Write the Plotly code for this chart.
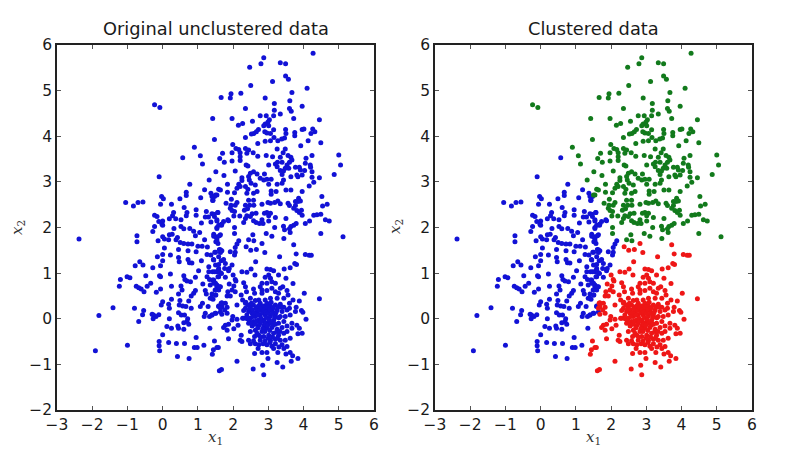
import plotly.graph_objects as go
from plotly.subplots import make_subplots

titles = ["Original unclustered data", "Clustered data"]
x_label = "<i>x</i><sub>1</sub>"
y_label = "<i>x</i><sub>2</sub>"
x_ticks = [-3, -2, -1, 0, 1, 2, 3, 4, 5, 6]
y_ticks = [-2, -1, 0, 1, 2, 3, 4, 5, 6]

green_points = [
(4.27,5.82),(2.87,5.72),(2.79,5.59),(2.47,5.51),(3.34,5.61),(3.49,5.59),(3.49,5.32),(3.57,5.25),(3.12,5.20),(2.50,5.11),
(4.10,5.05),(3.67,4.96),(2.22,4.94),(1.94,4.93),(1.92,4.84),(1.66,4.85),(2.91,4.84),(3.61,4.78),(3.17,4.72),(3.96,4.66),
(2.35,4.61),(3.60,4.61),(3.17,4.57),(3.65,4.55),(3.34,4.49),(3.15,4.45),(2.94,4.45),(2.77,4.45),(3.72,4.39),(4.45,4.36),
(1.42,4.39),(1.97,4.39),(2.55,4.33),(3.03,4.36),(2.99,4.31),(2.91,4.27),(2.87,4.23),(2.27,4.28),(2.15,4.24),(3.01,4.23),
(3.49,4.15),(3.96,4.15),(4.01,4.16),(4.26,4.16),(4.32,4.10),(2.72,4.15),(2.66,4.10),(2.59,4.06),(2.52,4.05),(2.90,4.10),
(2.96,4.07),(3.06,4.06),(3.15,4.14),(3.50,4.06),(3.75,4.08),(3.75,4.01),(4.21,4.06),(2.35,3.97),(3.46,3.96),(3.38,3.94),
(3.27,3.90),(3.16,3.97),(3.06,3.90),(2.91,3.89),(2.70,3.84),(4.13,3.90),(4.49,3.86),(3.92,3.79),(1.99,3.82),(2.08,3.73),
(2.16,3.71),(2.35,3.73),(2.44,3.70),(3.25,3.72),(3.48,3.72),(3.42,3.64),(1.97,3.64),(1.70,3.63),(2.20,3.64),(2.39,3.63),
(2.57,3.64),(2.70,3.56),(2.94,3.58),(3.12,3.55),(2.20,3.55),(1.62,3.51),(1.97,3.46),(1.75,3.43),(4.24,3.58),(4.07,3.52),
(5.00,3.59),(5.05,3.37),(4.87,3.16),(3.56,3.58),(3.64,3.54),(3.67,3.48),(3.34,3.54),(3.60,3.43),(3.53,3.37),(3.39,3.43),
(3.26,3.43),(3.20,3.39),(3.01,3.37),(3.25,3.33),(2.37,3.37),(2.42,3.35),(2.20,3.47),(4.05,3.41),(4.19,3.37),(4.20,3.32),
(3.88,3.32),(3.77,3.32),(3.91,3.26),(4.03,3.25),(4.24,3.22),(3.34,3.25),(3.43,3.24),(3.48,3.30),(3.58,3.30),(3.39,3.16),
(1.51,3.22),(2.06,3.24),(2.58,3.22),(2.49,3.19),(2.68,3.17),(2.89,3.17),(3.81,3.15),(3.96,3.15),(3.84,3.11),(3.64,3.11),
(4.45,3.09),(4.24,3.10),(1.74,3.14),(2.25,3.09),(2.25,3.03),(2.44,3.12),(2.46,3.04),(2.51,2.97),(2.77,3.08),(2.87,3.04),
(2.96,3.06),(3.08,3.06),(3.43,3.04),(3.39,2.97),(3.25,2.95),(2.16,2.95),(2.20,2.90),(2.11,2.86),(2.35,2.90),(3.01,2.95),
(2.63,2.93),(4.29,2.99),(4.16,2.91),(1.84,2.95),(1.59,2.84),(1.84,2.77),(2.04,2.76),(2.42,2.84),(3.50,2.82),(3.64,2.82),
(3.22,2.79),(3.08,2.80),(3.08,2.73),(2.58,2.75),(2.68,2.79),(2.39,2.75),(3.96,2.79),(4.52,2.68),(1.54,2.71),(1.95,2.62),
(2.44,2.60),(2.58,2.60),(3.86,2.64),(3.91,2.58),(3.77,2.57),(3.27,2.58),(3.18,2.55),(3.06,2.53),(2.82,2.51),(2.99,2.55),
(3.34,2.52),(1.80,2.53),(2.11,2.55),(2.06,2.49),(1.94,2.49),(2.35,2.49),(2.59,2.49),(2.47,2.49),(4.67,2.51),(4.54,2.47),
(3.77,2.48),(3.56,2.53),(3.60,2.48),(3.84,2.57),(1.92,2.42),(1.97,2.37),(2.32,2.38),(2.41,2.41),(2.04,2.35),(3.72,2.42),
(3.94,2.38),(3.81,2.37),(3.88,2.33),(3.96,2.27),(2.96,2.33),(3.06,2.31),(2.89,2.31),(2.54,2.30),(2.65,2.31),(2.49,2.24),
(2.39,2.26),(2.19,2.25),(2.02,2.25),(2.35,2.20),(3.50,2.20),(3.20,2.22),(3.01,2.26),(4.29,2.27),(4.38,2.28),(4.49,2.29),
(4.62,2.17),(4.73,2.14),(4.17,2.14),(4.05,2.09),(2.58,2.15),(2.65,2.11),(2.82,2.17),(2.85,2.09),(2.75,2.09),(3.01,2.14),
(2.30,2.11),(2.04,2.00),(3.18,2.00),(3.43,2.03),(3.79,2.09),(3.72,2.05),(3.64,2.02),(3.60,1.97),(2.04,1.87),(2.56,1.84),
(2.44,1.73),(2.59,1.71),(2.94,1.87),(3.10,1.81),(3.44,1.76),(3.46,1.95),(3.62,1.89),(4.49,1.87),(5.12,1.80),
(-0.23,4.69),(-0.08,4.63),(1.47,3.93),(0.90,3.76),(1.07,3.57),(1.13,3.39),(1.32,3.04),(1.64,2.82),(1.50,2.71),
]

blue_points = [
(0.57,3.53),(-0.10,3.11),(0.77,2.95),(1.19,2.83),(0.67,2.77),(0.67,2.70),(1.37,2.75),(1.47,2.68),(1.42,2.59),(1.08,2.65),
(0.49,2.63),(-0.03,2.68),(0.02,2.63),(-0.06,2.51),(0.25,2.51),(-1.05,2.55),(-0.83,2.47),(-0.70,2.55),(-0.56,2.56),(0.61,2.44),
(0.95,2.39),(0.95,2.27),(0.69,2.33),(0.67,2.26),(1.24,2.35),(1.57,2.33),(1.40,2.30),(1.47,2.24),(1.30,2.23),(1.21,2.23),
(0.31,2.33),(0.28,2.26),(0.19,2.19),(0.37,2.19),(0.52,2.17),(-0.23,2.27),(-0.16,2.24),(-0.11,2.13),(0.00,2.14),(-0.02,2.07),
(-0.23,2.02),(1.10,2.10),(1.37,2.12),(1.54,2.14),(1.67,2.07),(1.54,2.00),(0.32,1.98),(0.52,2.02),(0.77,1.98),
(-2.375,1.75),(-0.28,1.91),(0.00,2.05),(-0.73,1.82),(-0.73,1.69),(-0.13,1.71),(0.00,1.80),(0.05,1.75),(0.19,1.84),(0.27,1.85),
(0.17,1.73),(0.38,1.73),(0.42,1.78),(0.60,1.97),(0.88,1.92),(1.05,1.89),(0.93,1.82),(1.19,1.73),(1.45,1.85),(1.54,1.76),
(1.51,1.69),(1.64,1.84),(0.50,1.67),(0.60,1.65),(0.72,1.64),(0.83,1.64),(1.00,1.59),(1.12,1.59),(1.27,1.57),(0.05,1.55),
(0.45,1.52),(0.72,1.49),(0.95,1.47),(0.00,1.41),(-0.15,1.36),(0.22,1.40),(0.45,1.34),(0.47,1.25),(0.72,1.30),(0.76,1.23),
(0.83,1.22),(1.10,1.27),(1.26,1.41),(1.37,1.40),(1.50,1.46),(1.44,1.30),(1.64,1.51),(1.59,1.36),(1.66,1.27),(0.00,1.27),
(-0.06,1.16),(-0.28,1.12),(-0.65,1.25),(-0.56,1.18),(-0.78,1.16),(1.02,1.05),(1.31,1.14),(1.50,1.18),(1.59,1.10),(1.31,1.03),
(1.42,1.03),(1.54,1.03),(1.64,1.01),(0.22,0.98),(-0.09,0.94),(-0.06,0.92),(-0.48,0.94),(-1.01,0.92),(-0.93,0.90),(-1.20,0.86),
(-1.23,0.71),(0.60,0.94),(0.63,0.86),(0.69,0.83),(0.79,0.81),(0.93,0.91),(1.26,0.92),(1.33,0.86),(1.42,0.85),(1.50,0.78),
(1.59,0.92),(1.14,0.76),(1.35,0.74),(1.54,0.70),(1.64,0.70),(-0.34,0.78),(-0.44,0.71),(-0.75,0.71),(-0.68,0.68),(-0.61,0.65),
(-0.53,0.59),(-0.18,0.58),(-0.06,0.65),(0.25,0.71),(0.55,0.63),(0.45,0.54),(0.52,0.72),(0.93,0.62),(0.88,0.56),(0.81,0.50),
(1.21,0.62),(1.24,0.54),(1.40,0.54),(1.50,0.52),(1.35,0.45),(1.59,0.63),(1.43,0.43),(0.25,0.43),(0.00,0.37),(-0.04,0.30),
(0.17,0.32),(0.19,0.23),(0.49,0.40),(0.47,0.30),(0.57,0.28),(0.66,0.27),(0.74,0.39),(0.81,0.23),(1.07,0.27),(1.13,0.34),
(1.29,0.27),(1.59,0.28),(-0.80,0.23),(-1.41,0.24),(-0.54,0.18),(-0.57,0.09),(-1.81,0.07),(-0.30,0.10),(-0.26,0.08),(-0.11,0.09),
(-0.19,0.05),(-0.27,0.00),(-0.68,-0.06),(0.45,0.13),(0.53,0.08),(0.62,0.08),(1.21,0.12),(1.18,0.05),(1.33,0.05),(1.40,0.08),
(1.51,0.12),(1.64,0.15),(0.19,0.00),(0.71,0.00),(0.69,-0.06),(0.74,-0.12),(0.60,-0.09),(0.12,-0.17),(0.25,-0.21),(0.43,-0.16),
(0.45,-0.21),(0.60,-0.23),(1.34,-0.21),(0.00,-0.35),(0.95,-0.41),(-0.10,-0.50),(-0.10,-0.59),(0.17,-0.52),(0.39,-0.54),(0.62,-0.54),
(-1.00,-0.58),(-0.085,-0.70),(0.90,-0.63),(0.98,-0.63),(1.17,-0.58),(-1.91,-0.70),(0.42,-0.83),(0.75,-0.87),
(1.45,1.81),(1.51,1.80),(1.61,1.82),(1.54,1.71),(1.57,1.65),(2.16,1.71),(2.11,1.64),(2.06,1.56),(1.92,1.47),(2.06,1.46),
(2.04,1.40),(1.61,1.52),(1.68,1.49),(1.64,1.45),(1.48,1.46),(1.45,1.29),(1.73,1.30),(1.78,1.21),(1.59,1.19),(1.97,1.18),
(1.89,1.10),(1.76,1.10),(1.87,1.05),(1.59,1.07),(1.48,1.03),(1.67,0.99),(1.78,0.91),(1.57,0.92),(1.45,0.85),(1.45,0.78),
(1.54,0.74),(1.61,0.70),(1.49,0.63),(1.51,0.52),(1.40,0.45),(1.59,0.27),(1.40,0.08),(1.49,0.12),
(1.59,2.05),(1.67,2.05),(1.54,1.98),(1.87,2.15),(1.73,2.13),(1.85,2.17),(1.68,2.07),(1.56,2.33),(1.45,2.29),(1.54,2.17),(1.40,2.68),(1.43,2.60),
]

red_points = [
(2.82,1.65),(3.72,1.62),(2.37,1.58),(2.50,1.50),(2.66,1.52),(2.90,1.45),(3.79,1.42),(4.05,1.41),(4.16,1.39),(4.22,1.39),
(3.32,1.36),(2.64,1.25),(3.75,1.21),(3.80,1.19),(2.25,1.03),(2.39,1.02),(2.51,1.09),(2.62,0.96),(2.96,1.09),(3.06,1.08),
(3.15,1.05),(3.45,1.09),(3.62,1.12),(3.29,0.96),(3.50,0.89),(2.00,0.96),(2.06,0.86),(2.08,0.83),(2.30,0.79),(3.70,0.77),
(2.91,0.91),(3.01,0.96),(3.06,0.89),(3.10,0.81),(2.96,0.78),(2.82,0.78),(2.77,0.70),(1.89,0.76),(2.02,0.72),(1.97,0.63),
(1.85,0.59),(1.83,0.50),(1.92,0.50),(2.06,0.59),(2.35,0.70),(2.38,0.59),(2.23,0.52),(2.27,0.41),(2.35,0.34),(2.58,0.65),
(2.61,0.56),(2.49,0.45),(2.82,0.63),(2.82,0.56),(2.96,0.62),(3.20,0.78),(3.10,0.67),(3.20,0.59),(3.34,0.67),(3.41,0.70),
(3.29,0.56),(3.53,0.62),(3.56,0.52),(3.44,0.45),(3.25,0.45),(3.06,0.45),(2.91,0.41),(2.73,0.41),(4.02,0.56),(4.45,0.44),
(3.70,0.41),(3.88,0.39),(3.60,0.34),(1.68,0.35),(1.78,0.34),(1.83,0.25),(1.68,0.27),(1.76,0.19),(1.68,0.10),(1.83,0.12),
(2.11,0.30),(3.79,0.25),(3.94,0.18),(3.98,0.14),(3.77,0.16),(3.60,0.23),
(2.35,0.23),(2.44,0.16),(2.30,0.18),(2.49,0.27),(2.58,0.30),(2.68,0.25),(2.77,0.34),(2.87,0.28),(2.96,0.34),(3.06,0.28),
(3.20,0.30),(3.34,0.32),(3.44,0.25),(3.53,0.19),(3.39,0.16),(3.25,0.19),(3.10,0.18),(2.96,0.21),(2.82,0.19),(2.68,0.16),
(2.54,0.12),(2.39,0.08),(2.30,0.01),(2.49,0.01),(2.63,0.05),(2.77,0.08),(2.91,0.08),(3.06,0.06),(3.20,0.08),(3.34,0.05),
(3.48,0.05),(3.62,0.08),(2.58,-0.06),(2.73,-0.03),(2.87,-0.03),(3.01,-0.06),(3.15,-0.04),(3.29,-0.10),(3.44,-0.06),(2.73,-0.14),
(2.87,-0.16),(2.54,-0.16),(2.44,-0.10),(2.63,-0.25),(2.82,-0.28),(2.96,-0.21),(3.10,-0.19),(3.25,-0.23),(3.39,-0.19),(3.53,-0.16),
(3.67,-0.21),(3.67,-0.10),(3.81,-0.14),(3.88,-0.21),(3.96,-0.32),(3.84,-0.33),(4.07,-0.01),(1.99,0.05),(1.97,-0.03),(2.11,-0.01),
(2.27,0.01),(1.78,-0.14),(1.87,-0.12),(1.73,-0.19),(1.83,-0.25),(2.02,-0.22),(2.14,-0.14),(1.87,-0.44),(2.23,-0.36),(2.20,-0.47),
(2.25,-0.50),(2.44,-0.47),(2.49,-0.28),(2.61,-0.39),(2.73,-0.36),(2.87,-0.39),(3.01,-0.36),(3.15,-0.32),(3.29,-0.36),(3.44,-0.32),
(3.53,-0.28),(3.62,-0.43),(3.48,-0.47),(3.34,-0.47),(3.20,-0.45),(3.06,-0.47),(2.91,-0.48),(2.77,-0.47),(2.63,-0.55),(2.73,-0.57),
(2.49,-0.55),(2.96,-0.57),(3.10,-0.60),(3.20,-0.55),(3.39,-0.57),(3.53,-0.61),(2.71,-0.65),(2.61,-0.76),(2.82,-0.74),(2.96,-0.74),
(3.15,-0.65),(3.27,-0.74),(3.44,-0.65),(3.50,-0.77),(3.62,-0.74),(3.69,-0.81),(3.84,-0.87),(3.65,-0.93),(2.99,-0.87),(3.25,-0.96),
(3.41,-1.06),(2.84,-1.02),(2.57,-1.10),(2.87,-1.23),(2.11,-0.93),(1.61,-1.14),(1.67,-1.11),(1.47,-0.49),(1.58,-0.63),(1.44,-0.68),
(1.41,-0.78),(1.54,-0.63),(1.66,0.34),(1.64,0.23),
(2.36,0.36),(2.42,0.30),(2.47,0.21),(2.52,0.34),(2.55,0.20),(2.60,0.12),(2.63,0.40),(2.65,0.22),(2.70,0.08),(2.72,0.28),
(2.75,0.18),(2.79,0.01),(2.80,0.25),(2.84,0.13),(2.88,0.20),(2.90,-0.08),(2.93,0.14),(2.95,0.03),(2.98,0.26),(3.00,0.12),
(3.03,-0.02),(3.04,0.20),(3.08,0.36),(3.12,0.12),(3.14,0.24),(3.18,0.02),(3.22,0.14),(3.27,0.26),(3.30,0.02),(3.37,0.25),
(2.40,0.00),(2.46,-0.04),(2.52,-0.10),(2.56,0.05),(2.62,-0.12),(2.66,-0.05),(2.70,-0.20),(2.76,-0.10),(2.80,-0.06),(2.84,-0.22),
(2.92,-0.12),(2.98,-0.14),(3.04,-0.26),(3.08,-0.10),(3.13,-0.14),(3.20,-0.12),(3.24,-0.28),(3.33,-0.28),(2.68,-0.32),(2.78,-0.40),
(2.90,-0.28),(3.00,-0.42),(3.12,-0.40),(3.26,-0.42),(2.85,-0.55),(3.05,-0.52),(3.30,-0.62),(2.58,-0.48),
]


def xs(points):
    return [p[0] for p in points]


def ys(points):
    return [p[1] for p in points]


fig = make_subplots(rows=1, cols=2)
BLUE, GREEN, RED = "#1212d6", "#127a1c", "#ee1616"
marker = dict(size=5, line=dict(width=0))
all_points = green_points + blue_points + red_points
fig.add_trace(go.Scatter(x=xs(all_points), y=ys(all_points), mode="markers",
                         marker=dict(color=BLUE, **marker)), row=1, col=1)
for pts, col in ((blue_points, BLUE), (green_points, GREEN), (red_points, RED)):
    fig.add_trace(go.Scatter(x=xs(pts), y=ys(pts), mode="markers",
                             marker=dict(color=col, **marker)), row=1, col=2)

W, H = 808, 455
domains = [(57 / W, 374 / W), (435 / W, 752 / W)]
label_font = dict(family="DejaVu Serif", size=15, color="#333333")
for i, dom in enumerate(domains, start=1):
    fig.update_xaxes(row=1, col=i, domain=list(dom), range=[-3, 6], tickvals=x_ticks, automargin=False,
                     ticktext=[str(t).replace("-", "\u2212") for t in x_ticks],
                     showgrid=False, zeroline=False, ticks="inside", ticklen=4, tickwidth=1,
                     tickcolor="#555555", showline=True, linewidth=1.5, linecolor="#222222", mirror="ticks",
                     tickfont=dict(family="DejaVu Sans", size=15.5, color="#1a1a1a"))
    fig.update_yaxes(row=1, col=i, domain=[1 - 410 / H, 1 - 45 / H], range=[-2, 6], tickvals=y_ticks, automargin=False,
                     ticktext=[str(t).replace("-", "\u2212") for t in y_ticks],
                     showgrid=False, zeroline=False, ticks="inside", ticklen=4, tickwidth=1,
                     tickcolor="#555555", showline=True, linewidth=1.5, linecolor="#222222", mirror="ticks",
                     tickfont=dict(family="DejaVu Sans", size=15.5, color="#1a1a1a"))
    fig.add_annotation(x=sum(dom) / 2, y=1 - 41 / H, xref="paper", yref="paper", text=titles[i - 1],
                       showarrow=False, xanchor="center", yanchor="bottom",
                       font=dict(family="DejaVu Sans", size=17.8, color="#1a1a1a"))
    fig.add_annotation(x=sum(dom) / 2, y=1 - 437 / H, xref="paper", yref="paper", text=x_label,
                       showarrow=False, xanchor="center", yanchor="middle", font=label_font)
    fig.add_annotation(x=dom[0] - 40 / W, y=1 - 227 / H, xref="paper", yref="paper", text=y_label,
                       showarrow=False, xanchor="center", yanchor="middle", textangle=-90, font=label_font)

fig.update_layout(width=W, height=H, margin=dict(l=0, r=0, t=0, b=0), showlegend=False,
                  paper_bgcolor="white", plot_bgcolor="white")
fig.write_html("out.html", config={"displayModeBar": False},
               post_script="document.body.style.margin='0';")
